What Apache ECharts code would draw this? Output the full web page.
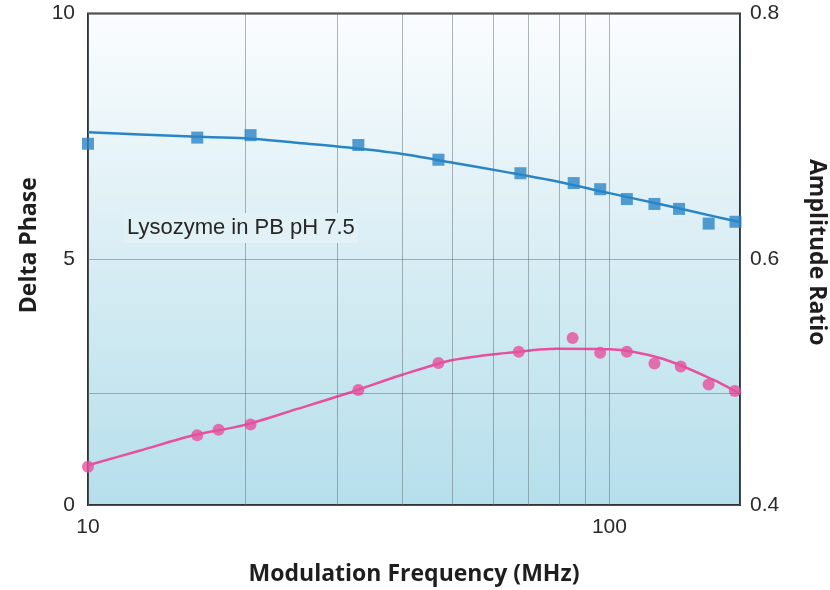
<!DOCTYPE html>
<html>
<head>
<meta charset="utf-8">
<script src="https://cdn.jsdelivr.net/npm/echarts@6/dist/echarts.min.js"></script>
<style>html,body{margin:0;padding:0;background:#fff;}#c{width:830px;height:590px;}</style>
</head>
<body>
<div id="c"></div>
<script>
// Delta phase (left axis) measured points
const phaseFreq = [10, 16.2, 17.8, 20.5, 33, 47, 67, 85, 96, 108, 122, 137, 155, 174];
const phaseValues = [0.78, 1.42, 1.53, 1.64, 2.34, 2.89, 3.12, 3.40, 3.10, 3.12, 2.88, 2.82, 2.45, 2.32];
// Amplitude ratio (right axis) measured points
const ampFreq = [10, 16.2, 20.5, 33, 47, 67.5, 85.4, 96, 108, 122, 136, 155, 174.5];
const ampValues = [0.694, 0.699, 0.701, 0.693, 0.681, 0.670, 0.662, 0.657, 0.649, 0.645, 0.641, 0.629, 0.6305];
// Fitted curves
const fitFreq = [10, 12.6, 15.8, 20, 25.1, 31.6, 39.8, 50.1, 63.1, 79.4, 100, 126, 158, 178];
const fitPhase = [0.81, 1.11, 1.41, 1.63, 1.95, 2.28, 2.64, 2.95, 3.09, 3.18, 3.17, 2.98, 2.55, 2.26];
const fitAmp = [0.7034, 0.7016, 0.6998, 0.6985, 0.6948, 0.6909, 0.6858, 0.6785, 0.6711, 0.6633, 0.6538, 0.6445, 0.6351, 0.6302];
// Axis ticks / gridlines
const xMin = 10, xMax = 178;
const xLabelValues = [10, 100];
const xMinorGrid = [20, 30, 40, 50, 60, 70, 80, 90];
const leftExtraGrid = [2.27];
const annotation = 'Lysozyme in PB pH 7.5';

const pair = (xs, ys) => xs.map((x, i) => [x, ys[i]]);
const gridColor = 'rgba(95,110,118,0.5)';
const blue = '#2a85c6';
const pink = '#e6509f';
const tickFont = { fontFamily: 'Liberation Sans', fontSize: 21, color: '#2a2a2a' };
const nameFont = { fontFamily: 'Open Sans', fontWeight: 'bold', fontSize: 23, color: '#1e1e1e' };

const chart = echarts.init(document.getElementById('c'), null, { renderer: 'canvas' });
chart.setOption({
  animation: false,
  backgroundColor: '#ffffff',
  grid: {
    left: 88, right: 90, top: 13.5, bottom: 85,
    outerBoundsMode: 'none',
    containLabel: false,
    show: true,
    borderColor: '#333', borderWidth: 2,
    backgroundColor: {
      type: 'linear', x: 0, y: 0, x2: 0, y2: 1,
      colorStops: [
        { offset: 0, color: '#fbfdfe' },
        { offset: 0.5, color: '#d8edf4' },
        { offset: 1, color: '#b5dfeb' }
      ]
    }
  },
  xAxis: {
    type: 'log', logBase: 10, min: xMin, max: xMax,
    name: 'Modulation Frequency (MHz)', nameLocation: 'middle', nameGap: 58,
    nameTextStyle: nameFont,
    axisLine: { show: false },
    axisTick: { show: false },
    axisLabel: {
      margin: 12, ...tickFont,
      showMaxLabel: false,
      formatter: v => xLabelValues.some(t => Math.abs(t - v) < 1e-6 * t) ? String(Math.round(v)) : ''
    },
    splitLine: { show: true, lineStyle: { color: gridColor, width: 1 } }
  },
  yAxis: [
    {
      type: 'value', min: 0, max: 10, interval: 5, position: 'left',
      name: 'Delta Phase', nameLocation: 'middle', nameGap: 47,
      nameTextStyle: { ...nameFont, padding: [0, 0, 0, 28] },
      axisLine: { show: false }, axisTick: { show: false },
      axisLabel: { margin: 13, ...tickFont },
      splitLine: { show: true, lineStyle: { color: gridColor, width: 1 } }
    },
    {
      type: 'value', min: 0.4, max: 0.8, interval: 0.2, position: 'right',
      name: 'Amplitude Ratio', nameLocation: 'middle', nameGap: 65,
      nameRotate: -90,
      nameTextStyle: { ...nameFont, padding: [0, 14, 0, 0] },
      axisLine: { show: false }, axisTick: { show: false },
      axisLabel: { margin: 10, ...tickFont, formatter: v => v.toFixed(1) },
      splitLine: { show: false }
    }
  ],
  graphic: [{
    type: 'text', left: 124, top: 213, z: 10,
    style: {
      text: annotation,
      font: '22px "Liberation Sans"', fill: '#262626',
      backgroundColor: '#e1f1f6', padding: [4, 3]
    }
  }],
  series: [
    {
      type: 'line', data: [], z: 1, silent: true,
      markLine: {
        silent: true, symbol: 'none', label: { show: false },
        lineStyle: { color: gridColor, width: 1, type: 'solid' },
        data: [
          ...xMinorGrid.map(v => ({ xAxis: v })),
          ...leftExtraGrid.map(v => ({ yAxis: v }))
        ]
      }
    },
    {
      name: 'Amplitude fit', type: 'line', yAxisIndex: 1, data: pair(fitFreq, fitAmp),
      smooth: 0.3, showSymbol: false, symbol: 'none', lineStyle: { color: blue, width: 2.5 }, z: 3
    },
    {
      name: 'Amplitude Ratio', type: 'scatter', yAxisIndex: 1, data: pair(ampFreq, ampValues),
      symbol: 'rect', symbolSize: 12, itemStyle: { color: blue }, z: 4
    },
    {
      name: 'Phase fit', type: 'line', yAxisIndex: 0, data: pair(fitFreq, fitPhase),
      smooth: 0.3, showSymbol: false, symbol: 'none', lineStyle: { color: pink, width: 2.5 }, z: 3
    },
    {
      name: 'Delta Phase', type: 'scatter', yAxisIndex: 0, data: pair(phaseFreq, phaseValues),
      symbol: 'circle', symbolSize: 12, itemStyle: { color: pink }, z: 4
    }
  ]
});
</script>
</body>
</html>
